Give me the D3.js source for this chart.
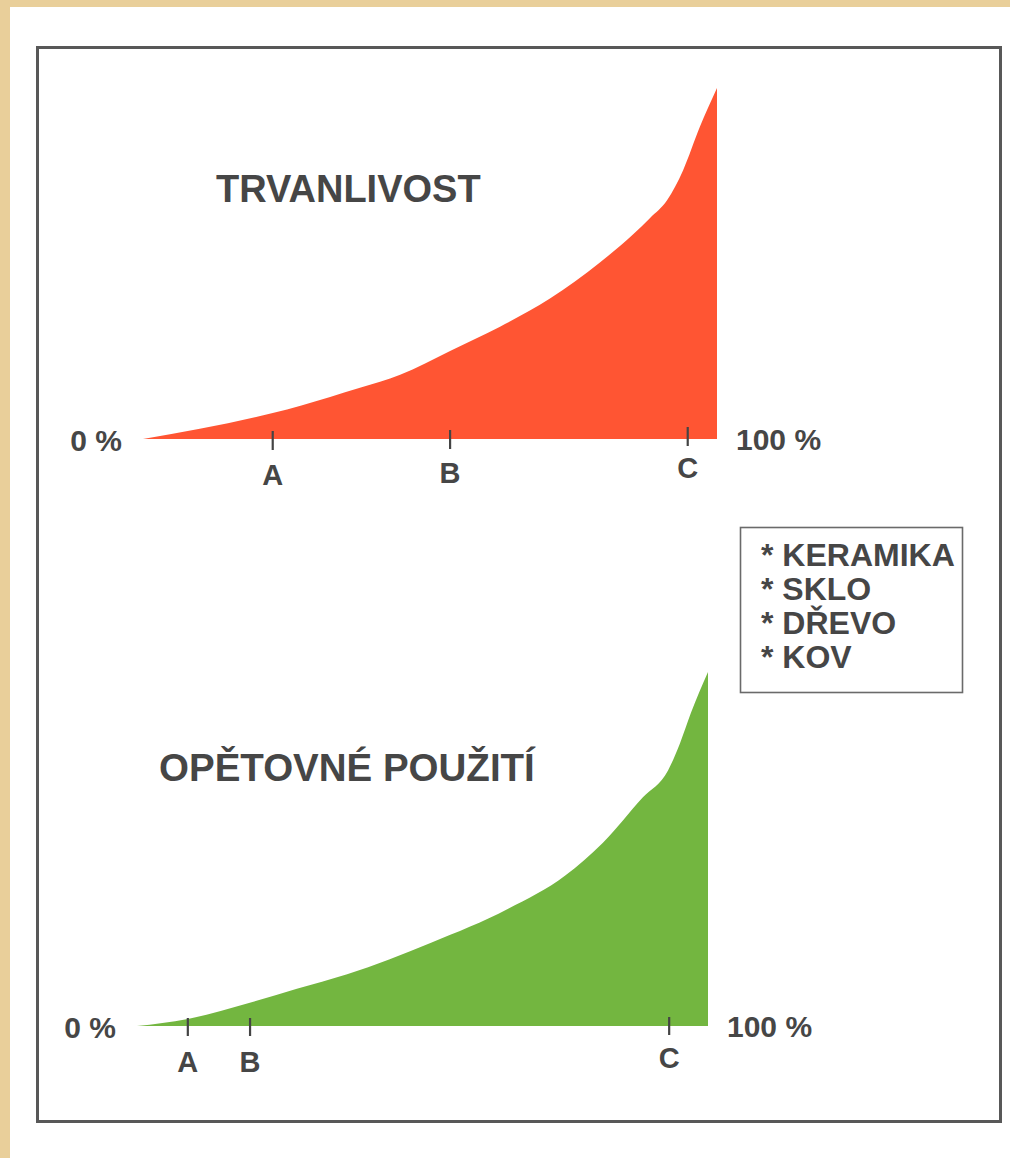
<!DOCTYPE html>
<html>
<head>
<meta charset="utf-8">
<script src="https://cdn.jsdelivr.net/npm/d3@7/dist/d3.min.js"></script>
<style>
  html, body { margin: 0; padding: 0; background: #e9cf9a; }
  svg { display: block; }
  text { font-family: "Liberation Sans", Arial, Helvetica, sans-serif; font-weight: bold; fill: #464646; }
</style>
</head>
<body>
<script>
// Share of material (x, %) against relative value of the property (y, %)
const durabilityX = [0, 9.9, 22.6, 32.6, 37.8, 44.8, 53.5, 62.2, 70.9, 79.6, 85.4, 88.3, 91.3, 94.1, 97.0, 100];
const durabilityY = [0, 2.9, 7.4, 12.0, 14.6, 18.3, 25.1, 32.0, 40.0, 50.3, 58.3, 62.9, 68.0, 76.6, 88.9, 100];
const reuseX = [0, 8.9, 19.6, 28.0, 36.8, 51.5, 65.0, 75.0, 81.6, 88.6, 93.0, 95.1, 97.0, 100];
const reuseY = [0, 2.0, 6.5, 10.5, 14.6, 23.5, 33.1, 42.5, 51.8, 64.6, 72.2, 79.9, 88.4, 100];

// Marked positions A, B, C along each axis
const tickNames = ["A", "B", "C"];
const durabilityTicks = [22.6, 53.5, 94.9];
const reuseTicks = [8.9, 19.8, 93.2];

const axisEnds = ["0 %", "100 %"];
const titles = ["TRVANLIVOST", "OPĚTOVNÉ POUŽITÍ"];
const materials = ["KERAMIKA", "SKLO", "DŘEVO", "KOV"];

const W = 1010, H = 1158;
const svg = d3.select("body").append("svg").attr("width", W).attr("height", H);

// paper sheet and frame
svg.append("rect").attr("x", 10).attr("y", 7).attr("width", W - 10).attr("height", H - 7).attr("fill", "#ffffff");
svg.append("rect").attr("x", 37.5).attr("y", 47.5).attr("width", 963).attr("height", 1074)
  .attr("fill", "none").attr("stroke", "#585858").attr("stroke-width", 3);

function panel(cfg) {
  const x = d3.scaleLinear().domain([0, 100]).range([cfg.x0, cfg.x1]);
  const y = d3.scaleLinear().domain([0, 100]).range([cfg.base, cfg.top]);
  const pts = cfg.xs.map((v, i) => [v, cfg.ys[i]]);

  const area = d3.area()
    .x(d => x(d[0]))
    .y0(y(0))
    .y1(d => y(d[1]))
    .curve(d3.curveMonotoneX);

  svg.append("path").datum(pts).attr("d", area).attr("fill", cfg.color);

  // tick marks crossing the baseline
  const g = svg.append("g");
  g.selectAll("line").data(cfg.ticks).join("line")
    .attr("x1", d => x(d)).attr("x2", d => x(d))
    .attr("y1", (d, i) => y(0) - cfg.tickUp[i]).attr("y2", (d, i) => y(0) + cfg.tickDown[i])
    .attr("stroke", "#444").attr("stroke-width", 2.2);
  g.selectAll("text").data(cfg.ticks).join("text")
    .attr("x", d => x(d)).attr("y", (d, i) => y(0) + cfg.labelDy[i])
    .attr("text-anchor", "middle").attr("font-size", 29)
    .text((d, i) => tickNames[i]);

  svg.append("text").attr("x", x(0) - 21).attr("y", y(0) + 12)
    .attr("text-anchor", "end").attr("font-size", 30).text(axisEnds[0]);
  svg.append("text").attr("x", x(100) + 19).attr("y", y(0) + 11)
    .attr("text-anchor", "start").attr("font-size", 30).text(axisEnds[1]);

  svg.append("text").attr("x", cfg.titleX).attr("y", cfg.titleY)
    .attr("font-size", cfg.titleSize).text(cfg.title);
}

panel({
  xs: durabilityX, ys: durabilityY, ticks: durabilityTicks,
  x0: 143, x1: 717, base: 439, top: 88, color: "#ff5533",
  tickUp: [8, 9, 12], tickDown: [11, 10, 7], labelDy: [46, 44, 39],
  title: titles[0], titleX: 216, titleY: 202, titleSize: 38
});

panel({
  xs: reuseX, ys: reuseY, ticks: reuseTicks,
  x0: 137, x1: 708, base: 1026, top: 672, color: "#73b640",
  tickUp: [8, 8, 9], tickDown: [10, 10, 9], labelDy: [46, 46, 42],
  title: titles[1], titleX: 159, titleY: 781, titleSize: 38.5
});

// materials box
svg.append("rect").attr("x", 740.5).attr("y", 527.5).attr("width", 222).attr("height", 165)
  .attr("fill", "#fff").attr("stroke", "#6a6a6a").attr("stroke-width", 1.6);
svg.append("g").selectAll("text").data(materials).join("text")
  .attr("x", 761).attr("y", (d, i) => 566 + i * 34)
  .attr("font-size", 32)
  .text(d => "* " + d);
</script>
</body>
</html>
